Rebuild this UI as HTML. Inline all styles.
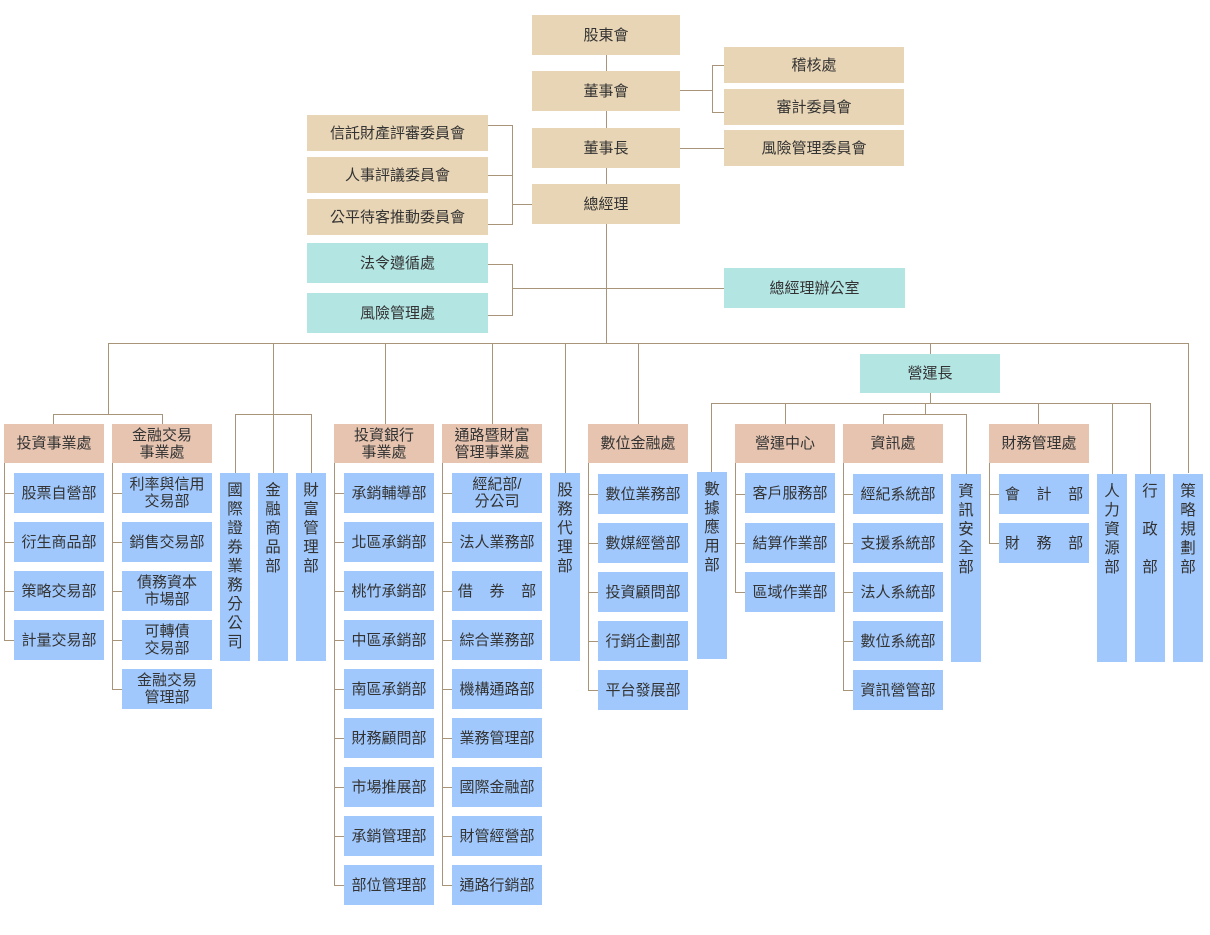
<!DOCTYPE html>
<html><head><meta charset="utf-8"><style>
*{margin:0;padding:0;box-sizing:border-box}
body{width:1210px;height:935px;background:#fff;position:relative;overflow:hidden;font-family:"Liberation Sans","Noto Sans CJK TC",sans-serif;color:#333;font-size:15px}
.b{position:absolute;display:flex;align-items:center;justify-content:center;text-align:center;line-height:17px;white-space:nowrap}
.t{background:#e8d5b5}.s{background:#e6c4b0}.u{background:#a1c8fc}.c{background:#b3e5e3}
.v{position:absolute;background:#a1c8fc;text-align:center;line-height:19px;padding-top:8px;font-size:15.5px}
.h,.w{position:absolute;background:#a89478}
.h{height:1px}.w{width:1px}
</style></head><body>
<div class="w" style="left:606px;top:55px;height:288px"></div>
<div class="b t" style="left:532px;top:15px;width:148px;height:40px">股東會</div>
<div class="b t" style="left:532px;top:71px;width:148px;height:40px">董事會</div>
<div class="b t" style="left:532px;top:128px;width:148px;height:40px">董事長</div>
<div class="b t" style="left:532px;top:184px;width:148px;height:40px">總經理</div>
<div class="h" style="left:680px;top:90px;width:32px"></div>
<div class="w" style="left:712px;top:65px;height:47px"></div>
<div class="h" style="left:712px;top:65px;width:12px"></div>
<div class="h" style="left:712px;top:112px;width:12px"></div>
<div class="b t" style="left:724px;top:47px;width:180px;height:36px">稽核處</div>
<div class="b t" style="left:724px;top:89px;width:180px;height:36px">審計委員會</div>
<div class="h" style="left:680px;top:148px;width:44px"></div>
<div class="b t" style="left:724px;top:130px;width:180px;height:36px">風險管理委員會</div>
<div class="h" style="left:488px;top:125px;width:24px"></div>
<div class="h" style="left:488px;top:175px;width:24px"></div>
<div class="h" style="left:488px;top:224px;width:24px"></div>
<div class="w" style="left:512px;top:125px;height:100px"></div>
<div class="h" style="left:512px;top:204px;width:20px"></div>
<div class="b t" style="left:307px;top:115px;width:181px;height:36px">信託財產評審委員會</div>
<div class="b t" style="left:307px;top:157px;width:181px;height:36px">人事評議委員會</div>
<div class="b t" style="left:307px;top:199px;width:181px;height:36px">公平待客推動委員會</div>
<div class="h" style="left:488px;top:264px;width:24px"></div>
<div class="h" style="left:488px;top:315px;width:24px"></div>
<div class="w" style="left:512px;top:264px;height:52px"></div>
<div class="h" style="left:512px;top:288px;width:212px"></div>
<div class="b c" style="left:307px;top:243px;width:181px;height:40px">法令遵循處</div>
<div class="b c" style="left:307px;top:293px;width:181px;height:40px">風險管理處</div>
<div class="b c" style="left:724px;top:268px;width:181px;height:40px">總經理辦公室</div>
<div class="h" style="left:108px;top:343px;width:1081px"></div>
<div class="w" style="left:108px;top:343px;height:71px"></div>
<div class="w" style="left:273px;top:343px;height:130px"></div>
<div class="w" style="left:385px;top:343px;height:81px"></div>
<div class="w" style="left:492px;top:343px;height:81px"></div>
<div class="w" style="left:565px;top:343px;height:130px"></div>
<div class="w" style="left:638px;top:343px;height:81px"></div>
<div class="w" style="left:930px;top:343px;height:11px"></div>
<div class="w" style="left:1188px;top:343px;height:130px"></div>
<div class="h" style="left:53px;top:414px;width:110px"></div>
<div class="w" style="left:53px;top:414px;height:10px"></div>
<div class="w" style="left:162px;top:414px;height:10px"></div>
<div class="b s" style="left:4px;top:424px;width:100px;height:39px">投資事業處</div>
<div class="b s" style="left:112px;top:424px;width:100px;height:39px">金融交易<br>事業處</div>
<div class="w" style="left:4px;top:463px;height:177px"></div>
<div class="h" style="left:4px;top:493px;width:10px"></div><div class="h" style="left:4px;top:542px;width:10px"></div><div class="h" style="left:4px;top:591px;width:10px"></div><div class="h" style="left:4px;top:640px;width:10px"></div>
<div class="b u" style="left:14px;top:473px;width:90px;height:40px">股票自營部</div>
<div class="b u" style="left:14px;top:522px;width:90px;height:40px">衍生商品部</div>
<div class="b u" style="left:14px;top:571px;width:90px;height:40px">策略交易部</div>
<div class="b u" style="left:14px;top:620px;width:90px;height:40px">計量交易部</div>
<div class="w" style="left:112px;top:463px;height:226px"></div>
<div class="h" style="left:112px;top:493px;width:10px"></div><div class="h" style="left:112px;top:542px;width:10px"></div><div class="h" style="left:112px;top:591px;width:10px"></div><div class="h" style="left:112px;top:640px;width:10px"></div><div class="h" style="left:112px;top:689px;width:10px"></div>
<div class="b u" style="left:122px;top:473px;width:90px;height:40px">利率與信用<br>交易部</div>
<div class="b u" style="left:122px;top:522px;width:90px;height:40px">銷售交易部</div>
<div class="b u" style="left:122px;top:571px;width:90px;height:40px">債務資本<br>市場部</div>
<div class="b u" style="left:122px;top:620px;width:90px;height:40px">可轉債<br>交易部</div>
<div class="b u" style="left:122px;top:669px;width:90px;height:40px">金融交易<br>管理部</div>
<div class="h" style="left:235px;top:414px;width:77px"></div>
<div class="w" style="left:235px;top:414px;height:59px"></div>
<div class="w" style="left:311px;top:414px;height:59px"></div>
<div class="v" style="left:220px;top:473px;width:30px;height:188px">國<br>際<br>證<br>券<br>業<br>務<br>分<br>公<br>司</div>
<div class="v" style="left:258px;top:473px;width:30px;height:188px">金<br>融<br>商<br>品<br>部</div>
<div class="v" style="left:296px;top:473px;width:30px;height:188px">財<br>富<br>管<br>理<br>部</div>
<div class="b s" style="left:334px;top:424px;width:100px;height:39px">投資銀行<br>事業處</div>
<div class="w" style="left:334px;top:463px;height:422px"></div>
<div class="h" style="left:334px;top:493px;width:10px"></div><div class="h" style="left:334px;top:542px;width:10px"></div><div class="h" style="left:334px;top:591px;width:10px"></div><div class="h" style="left:334px;top:640px;width:10px"></div><div class="h" style="left:334px;top:689px;width:10px"></div><div class="h" style="left:334px;top:738px;width:10px"></div><div class="h" style="left:334px;top:787px;width:10px"></div><div class="h" style="left:334px;top:836px;width:10px"></div><div class="h" style="left:334px;top:885px;width:10px"></div>
<div class="b u" style="left:344px;top:473px;width:90px;height:40px">承銷輔導部</div>
<div class="b u" style="left:344px;top:522px;width:90px;height:40px">北區承銷部</div>
<div class="b u" style="left:344px;top:571px;width:90px;height:40px">桃竹承銷部</div>
<div class="b u" style="left:344px;top:620px;width:90px;height:40px">中區承銷部</div>
<div class="b u" style="left:344px;top:669px;width:90px;height:40px">南區承銷部</div>
<div class="b u" style="left:344px;top:718px;width:90px;height:40px">財務顧問部</div>
<div class="b u" style="left:344px;top:767px;width:90px;height:40px">市場推展部</div>
<div class="b u" style="left:344px;top:816px;width:90px;height:40px">承銷管理部</div>
<div class="b u" style="left:344px;top:865px;width:90px;height:40px">部位管理部</div>
<div class="b s" style="left:442px;top:424px;width:100px;height:39px">通路暨財富<br>管理事業處</div>
<div class="w" style="left:442px;top:463px;height:422px"></div>
<div class="h" style="left:442px;top:493px;width:10px"></div><div class="h" style="left:442px;top:542px;width:10px"></div><div class="h" style="left:442px;top:591px;width:10px"></div><div class="h" style="left:442px;top:640px;width:10px"></div><div class="h" style="left:442px;top:689px;width:10px"></div><div class="h" style="left:442px;top:738px;width:10px"></div><div class="h" style="left:442px;top:787px;width:10px"></div><div class="h" style="left:442px;top:836px;width:10px"></div><div class="h" style="left:442px;top:885px;width:10px"></div>
<div class="b u" style="left:452px;top:473px;width:90px;height:40px">經紀部/<br>分公司</div>
<div class="b u" style="left:452px;top:522px;width:90px;height:40px">法人業務部</div>
<div class="b u" style="left:452px;top:571px;width:90px;height:40px">借&nbsp;&nbsp;&nbsp;&nbsp;券&nbsp;&nbsp;&nbsp;&nbsp;部</div>
<div class="b u" style="left:452px;top:620px;width:90px;height:40px">綜合業務部</div>
<div class="b u" style="left:452px;top:669px;width:90px;height:40px">機構通路部</div>
<div class="b u" style="left:452px;top:718px;width:90px;height:40px">業務管理部</div>
<div class="b u" style="left:452px;top:767px;width:90px;height:40px">國際金融部</div>
<div class="b u" style="left:452px;top:816px;width:90px;height:40px">財管經營部</div>
<div class="b u" style="left:452px;top:865px;width:90px;height:40px">通路行銷部</div>
<div class="v" style="left:550px;top:473px;width:30px;height:188px">股<br>務<br>代<br>理<br>部</div>
<div class="b s" style="left:588px;top:424px;width:100px;height:39px">數位金融處</div>
<div class="w" style="left:588px;top:463px;height:227px"></div>
<div class="h" style="left:588px;top:494px;width:10px"></div><div class="h" style="left:588px;top:543px;width:10px"></div><div class="h" style="left:588px;top:592px;width:10px"></div><div class="h" style="left:588px;top:641px;width:10px"></div><div class="h" style="left:588px;top:690px;width:10px"></div>
<div class="b u" style="left:598px;top:474px;width:90px;height:40px">數位業務部</div>
<div class="b u" style="left:598px;top:523px;width:90px;height:40px">數媒經營部</div>
<div class="b u" style="left:598px;top:572px;width:90px;height:40px">投資顧問部</div>
<div class="b u" style="left:598px;top:621px;width:90px;height:40px">行銷企劃部</div>
<div class="b u" style="left:598px;top:670px;width:90px;height:40px">平台發展部</div>
<div class="b c" style="left:860px;top:354px;width:140px;height:39px">營運長</div>
<div class="w" style="left:930px;top:393px;height:10px"></div>
<div class="h" style="left:711px;top:403px;width:440px"></div>
<div class="w" style="left:711px;top:403px;height:69px"></div>
<div class="w" style="left:785px;top:403px;height:21px"></div>
<div class="w" style="left:925px;top:403px;height:11px"></div>
<div class="h" style="left:883px;top:414px;width:84px"></div>
<div class="w" style="left:883px;top:414px;height:10px"></div>
<div class="w" style="left:966px;top:414px;height:60px"></div>
<div class="w" style="left:1038px;top:403px;height:21px"></div>
<div class="w" style="left:1112px;top:403px;height:71px"></div>
<div class="w" style="left:1150px;top:403px;height:71px"></div>
<div class="v" style="left:697px;top:472px;width:30px;height:187px">數<br>據<br>應<br>用<br>部</div>
<div class="b s" style="left:735px;top:424px;width:100px;height:39px">營運中心</div>
<div class="w" style="left:735px;top:463px;height:130px"></div>
<div class="h" style="left:735px;top:494px;width:10px"></div><div class="h" style="left:735px;top:543px;width:10px"></div><div class="h" style="left:735px;top:592px;width:10px"></div>
<div class="b u" style="left:745px;top:473px;width:90px;height:40px">客戶服務部</div>
<div class="b u" style="left:745px;top:523px;width:90px;height:40px">結算作業部</div>
<div class="b u" style="left:745px;top:572px;width:90px;height:40px">區域作業部</div>
<div class="b s" style="left:843px;top:424px;width:100px;height:39px">資訊處</div>
<div class="w" style="left:843px;top:463px;height:227px"></div>
<div class="h" style="left:843px;top:494px;width:10px"></div><div class="h" style="left:843px;top:543px;width:10px"></div><div class="h" style="left:843px;top:592px;width:10px"></div><div class="h" style="left:843px;top:641px;width:10px"></div><div class="h" style="left:843px;top:690px;width:10px"></div>
<div class="b u" style="left:853px;top:474px;width:90px;height:40px">經紀系統部</div>
<div class="b u" style="left:853px;top:523px;width:90px;height:40px">支援系統部</div>
<div class="b u" style="left:853px;top:572px;width:90px;height:40px">法人系統部</div>
<div class="b u" style="left:853px;top:621px;width:90px;height:40px">數位系統部</div>
<div class="b u" style="left:853px;top:670px;width:90px;height:40px">資訊營管部</div>
<div class="v" style="left:951px;top:474px;width:30px;height:188px">資<br>訊<br>安<br>全<br>部</div>
<div class="b s" style="left:989px;top:424px;width:100px;height:39px">財務管理處</div>
<div class="w" style="left:989px;top:463px;height:81px"></div>
<div class="h" style="left:989px;top:494px;width:10px"></div><div class="h" style="left:989px;top:543px;width:10px"></div>
<div class="b u" style="left:999px;top:474px;width:90px;height:40px">會&nbsp;&nbsp;&nbsp;&nbsp;計&nbsp;&nbsp;&nbsp;&nbsp;部</div>
<div class="b u" style="left:999px;top:523px;width:90px;height:40px">財&nbsp;&nbsp;&nbsp;&nbsp;務&nbsp;&nbsp;&nbsp;&nbsp;部</div>
<div class="v" style="left:1097px;top:474px;width:30px;height:188px">人<br>力<br>資<br>源<br>部</div>
<div class="v" style="left:1135px;top:474px;width:30px;height:188px">行<br><br>政<br><br>部</div>
<div class="v" style="left:1173px;top:474px;width:30px;height:188px">策<br>略<br>規<br>劃<br>部</div>
</body></html>
